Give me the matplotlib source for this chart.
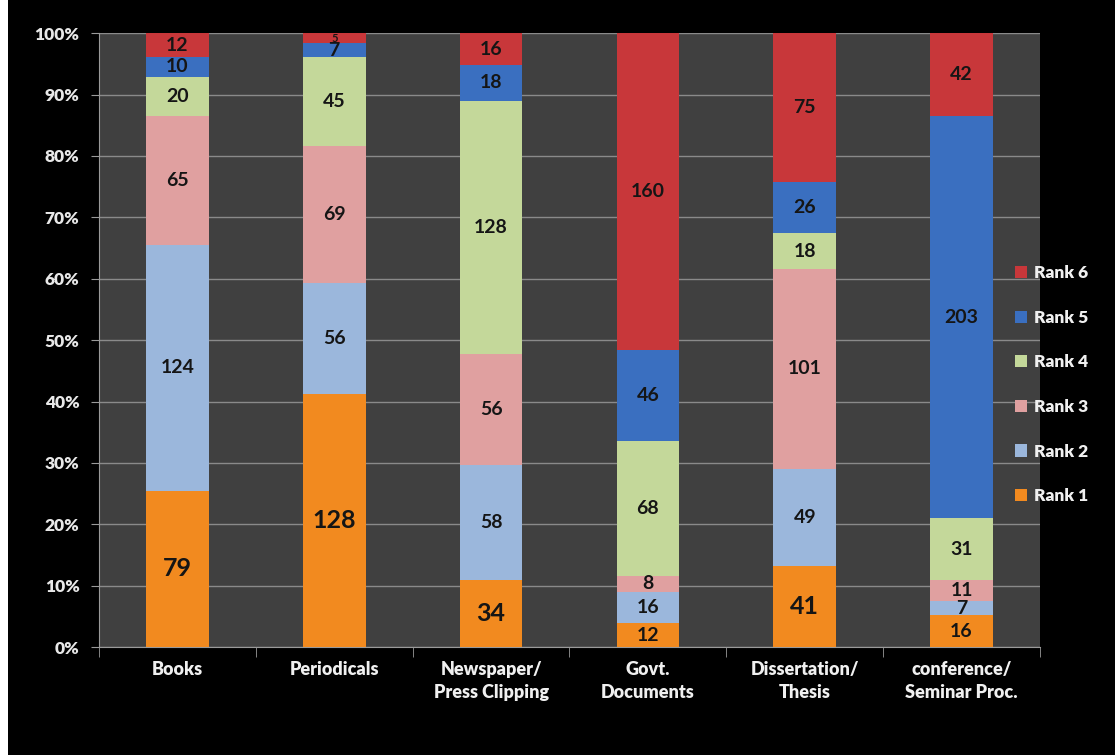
import matplotlib
matplotlib.use("Agg")
import matplotlib.pyplot as plt
import matplotlib.patches as mpatches
import numpy as np

plt.rcParams["font.family"] = ["Lato", "DejaVu Sans"]

# ── data ──────────────────────────────────────────
CATEGORIES = [
    "Books",
    "Periodicals",
    "Newspaper/\nPress Clipping",
    "Govt.\nDocuments",
    "Dissertation/\nThesis",
    "conference/\nSeminar Proc.",
]
RANKS = ["Rank 1", "Rank 2", "Rank 3", "Rank 4", "Rank 5", "Rank 6"]

rank1 = [79, 128, 34, 12, 41, 16]
rank2 = [124, 56, 58, 16, 49, 7]
rank3 = [65, 69, 56, 8, 101, 11]
rank4 = [20, 45, 128, 68, 18, 31]
rank5 = [10, 7, 18, 46, 26, 203]
rank6 = [12, 5, 16, 160, 75, 42]

COLORS = ["#f28a1f", "#9bb7dc", "#e0a0a0", "#c4d89a", "#3a6fc0", "#c8373a"]

series = np.array([rank1, rank2, rank3, rank4, rank5, rank6], dtype=float)
pct = series / series.sum(axis=0) * 100

fig = plt.figure(figsize=(11.15, 7.55), dpi=100, facecolor="black")
ax = fig.add_axes([0.0888, 0.143, 0.8439, 0.813])
ax.set_facecolor("#404040")
fig.patches.append(mpatches.Rectangle((0, 0), 0.007, 1, transform=fig.transFigure,
                                      facecolor="white", edgecolor="none"))

x = np.arange(len(CATEGORIES))
bottom = np.zeros(len(CATEGORIES))
handles = []
for i, (name, color) in enumerate(zip(RANKS, COLORS)):
    bars = ax.bar(x, pct[i], 0.4, bottom=bottom, color=color,
                  edgecolor="none", zorder=3, label=name)
    handles.append(bars)
    for j in range(len(CATEGORIES)):
        yc = bottom[j] + pct[i][j] / 2
        if i == 0 and pct[i][j] > 10:
            size = 18
        elif pct[i][j] < 2:
            size = 8  # tiny segment, mostly hidden like in the original
        else:
            size = 14
        ax.text(x[j], yc, f"{int(series[i][j])}", ha="center", va="center",
                fontsize=size, fontweight="bold", color="#151515", zorder=4)
    bottom += pct[i]

ax.set_xlim(-0.5, len(CATEGORIES) - 0.5)
ax.set_ylim(0, 100)
ax.set_yticks(range(0, 101, 10))
ax.set_yticklabels([f"{v}%" for v in range(0, 101, 10)], color="#e8e8e8",
                   fontsize=12.5, fontweight="heavy")
ax.yaxis.grid(True, color="#8a8a8a", linewidth=1, zorder=0)
ax.set_axisbelow(True)

ax.set_xticks(x)
ax.set_xticklabels(CATEGORIES, color="#f0f0f0", fontsize=13, fontweight="heavy",
                   linespacing=1.45)
ax.set_xticks(np.arange(-0.5, len(CATEGORIES), 1), minor=True)
ax.tick_params(axis="x", which="major", length=0, pad=10)
ax.tick_params(axis="x", which="minor", length=7, color="#9a9a9a")
ax.tick_params(axis="y", length=6, color="#9a9a9a", pad=8)

for side in ["top", "right"]:
    ax.spines[side].set_visible(False)
for side in ["left", "bottom"]:
    ax.spines[side].set_color("#9a9a9a")

leg = ax.legend(handles=handles[::-1], loc="center left",
                bbox_to_anchor=(0.957, 0.4275), frameon=False,
                labelspacing=1.65, handlelength=0.7, handleheight=0.7,
                handletextpad=0.4, fontsize=12.5)
for t in leg.get_texts():
    t.set_color("#f0f0f0")
    t.set_fontweight("heavy")

fig.savefig("out.png", dpi=100, facecolor="black")
